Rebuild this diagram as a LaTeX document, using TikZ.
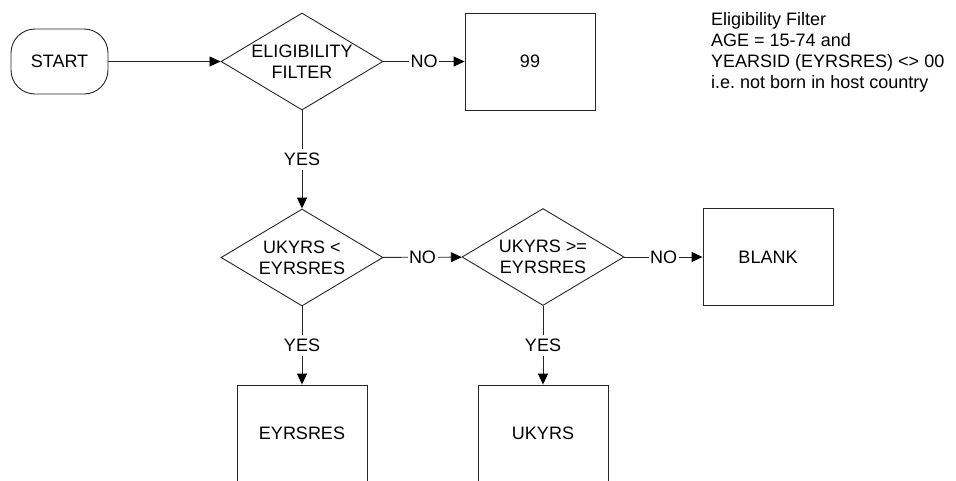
\documentclass[tikz,border=0pt]{standalone}
\usepackage{fontspec}
\setmainfont{Liberation Sans}
\usetikzlibrary{shapes.geometric,arrows.meta}
\frenchspacing
\begin{document}
\begin{tikzpicture}[x=1pt,y=-1pt,
  every node/.style={font=\fontsize{18}{21}\selectfont},
  ln/.style={draw=black!85,line width=0.9pt},
  arr/.style={ln,-{Triangle[length=11pt,width=10pt,fill=black,color=black]}},
  boxnode/.style={ln,rectangle,minimum width=130pt,minimum height=97pt,inner sep=0pt},
  dia/.style={ln,diamond,minimum width=162pt,minimum height=97pt,inner sep=0pt},
  term/.style={ln,rectangle,rounded corners=24pt,minimum width=97pt,minimum height=65pt,inner sep=0pt},
  lbl/.style={fill=white,inner xsep=1.5pt,inner ysep=4pt},
  dtext/.style={align=center,inner sep=0pt}
]
\useasboundingbox (0,0) rectangle (956,480);
\clip (0,0) rectangle (956,480);

\node[term] (start) at (59.5,61.5) {START};
\node[dia] (d1) at (302,61.5) {};
\node[dtext] (d1t) at (302,61.5) {ELIGIBILITY\\FILTER};
\node[boxnode] (b99) at (530,61.5) {99};

\node[dia] (d2) at (302,257.5) {};
\node[dtext] (d2t) at (302,257.5) {UKYRS <\\EYRSRES};
\node[dia] (d3) at (543,257) {};
\node[dtext] (d3t) at (543,257) {UKYRS >=\\EYRSRES};
\node[boxnode] (blank) at (768,257) {BLANK};

\node[boxnode] (eyr) at (302,433.5) {};
\node (eyrt) at (302,433.5) {EYRSRES};
\node[boxnode] (uky) at (543,433.5) {};
\node (ukyt) at (543,433.5) {UKYRS};

\node[anchor=north west,align=left,inner sep=0pt] (note) at (711,12)
  {Eligibility Filter\\AGE = 15-74 and\\YEARSID (EYRSRES) <> 00\\i.e. not born in host country};

\draw[arr] (start) -- (d1);
\draw[arr] (d1) -- node[lbl]{NO} (b99);
\draw[arr] (d1) -- node[lbl]{YES} (d2);
\draw[arr] (d2) -- node[lbl]{NO} (d3);
\draw[arr] (d3) -- node[lbl]{NO} (blank);
\draw[arr] (d2) -- node[lbl]{YES} (eyr);
\draw[arr] (d3) -- node[lbl]{YES} (uky);
\end{tikzpicture}
\end{document}
